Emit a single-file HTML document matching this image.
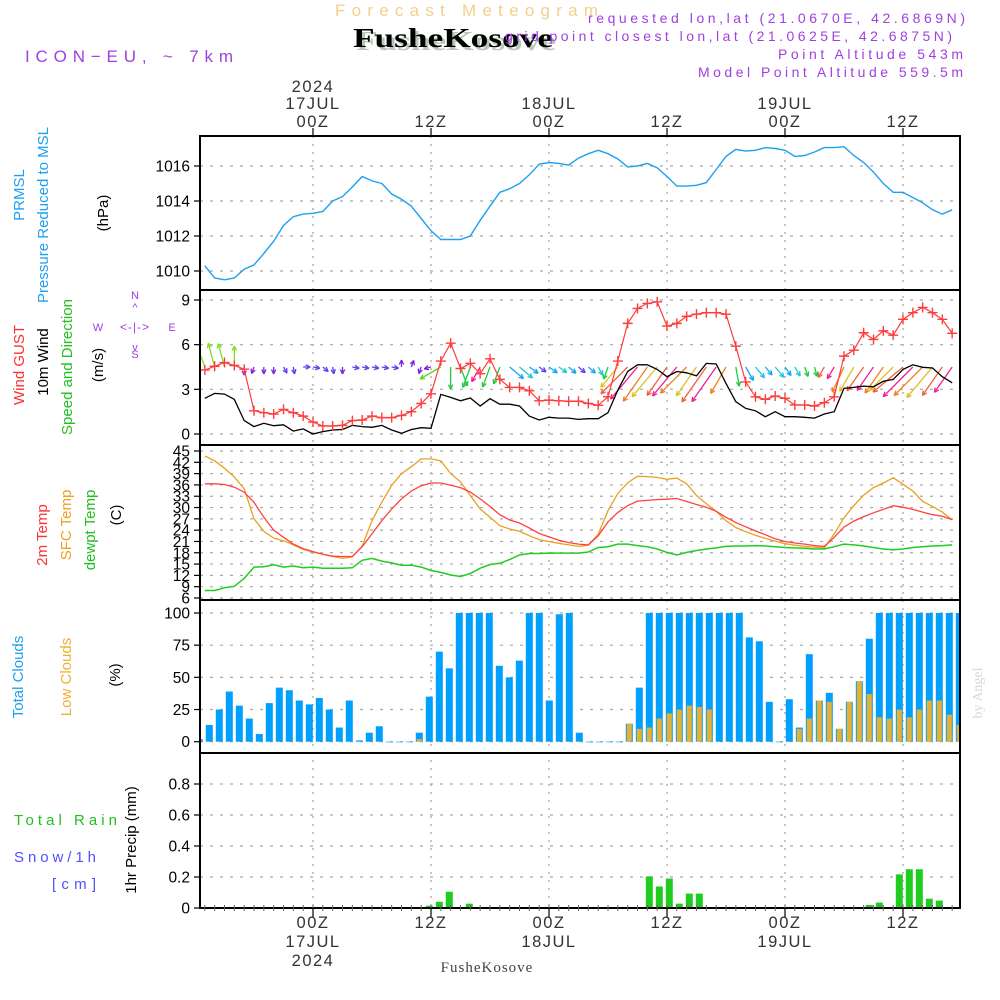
<!DOCTYPE html>
<html><head><meta charset="utf-8"><style>
html,body{margin:0;padding:0;background:#fff}
svg{display:block}
text{font-family:"Liberation Sans",sans-serif}
</style></head><body>
<svg id="chart" width="1000" height="1000" viewBox="0 0 1000 1000" xmlns="http://www.w3.org/2000/svg">
<g>
<text x="335" y="16" textLength="263" lengthAdjust="spacing" font-size="17" fill="#f3d08c">Forecast Meteogram</text>
<text x="356" y="50" textLength="200" lengthAdjust="spacingAndGlyphs" font-size="27" font-weight="bold" fill="#b8c8b8" style="font-family:'Liberation Serif',serif">FusheKosove</text>
<text x="353" y="47" textLength="200" lengthAdjust="spacingAndGlyphs" font-size="27" font-weight="bold" fill="#000" style="font-family:'Liberation Serif',serif">FusheKosove</text>
<text x="588" y="23" textLength="377" lengthAdjust="spacing" font-size="14" fill="#a040e0">requested lon,lat (21.0670E, 42.6869N)</text>
<text x="505" y="41" textLength="447" lengthAdjust="spacing" font-size="14" fill="#a040e0">grid point closest lon,lat (21.0625E, 42.6875N)</text>
<text x="778" y="59" textLength="185" lengthAdjust="spacing" font-size="14" fill="#a040e0">Point Altitude 543m</text>
<text x="698" y="77" textLength="265" lengthAdjust="spacing" font-size="14" fill="#a040e0">Model Point Altitude 559.5m</text>
<text x="25" y="62" textLength="208" lengthAdjust="spacing" font-size="17" fill="#a040e0">ICON−EU, ~ 7km</text>
</g>
<g font-size="15">
<text transform="translate(24,195) rotate(-90)" text-anchor="middle" fill="#1ea0f0">PRMSL</text>
<text transform="translate(48,215) rotate(-90)" text-anchor="middle" fill="#1ea0f0">Pressure Reduced to MSL</text>
<text transform="translate(108,213) rotate(-90)" text-anchor="middle" fill="#000">(hPa)</text>
<text transform="translate(24,365) rotate(-90)" text-anchor="middle" fill="#ff3030">Wind GUST</text>
<text transform="translate(48,362) rotate(-90)" text-anchor="middle" fill="#000">10m Wind</text>
<text transform="translate(72,367) rotate(-90)" text-anchor="middle" fill="#20c020">Speed and Direction</text>
<text transform="translate(103,365) rotate(-90)" text-anchor="middle" fill="#000">(m/s)</text>
<g fill="#a040e0" font-size="11">
<text x="135" y="299" text-anchor="middle">N</text><text x="135" y="358" text-anchor="middle">S</text>
<text x="98" y="331" text-anchor="middle">W</text><text x="172" y="331" text-anchor="middle">E</text>
<text x="135" y="331" text-anchor="middle" font-size="12" letter-spacing="1">&lt;-|-&gt;</text>
<text x="135" y="311" text-anchor="middle">^</text><text x="135" y="351" text-anchor="middle">v</text>
</g>
<text transform="translate(47,535) rotate(-90)" text-anchor="middle" fill="#ff3030">2m Temp</text>
<text transform="translate(71,525) rotate(-90)" text-anchor="middle" fill="#f0a020">SFC Temp</text>
<text transform="translate(95,530) rotate(-90)" text-anchor="middle" fill="#20c020">dewpt Temp</text>
<text transform="translate(121,515) rotate(-90)" text-anchor="middle" fill="#000">(C)</text>
<text transform="translate(23,677) rotate(-90)" text-anchor="middle" fill="#1ea0f0">Total Clouds</text>
<text transform="translate(71,677) rotate(-90)" text-anchor="middle" fill="#f0b030">Low Clouds</text>
<text transform="translate(120,675) rotate(-90)" text-anchor="middle" fill="#000">(%)</text>
<text x="14" y="825" textLength="103" lengthAdjust="spacing" font-size="15" fill="#20c020">Total   Rain</text>
<text x="14" y="862" textLength="82" lengthAdjust="spacing" font-size="15" fill="#5050ff">Snow/1h</text>
<text x="52" y="889" textLength="44" lengthAdjust="spacing" font-size="15" fill="#5050ff">[cm]</text>
<text transform="translate(136,840) rotate(-90)" text-anchor="middle" fill="#000">1hr Precip (mm)</text>
</g>
<text transform="translate(982,693) rotate(-90)" text-anchor="middle" font-size="14" fill="#d8d8d8" style="font-family:'Liberation Serif',serif">by Angel</text>
<text x="487" y="972" text-anchor="middle" font-size="15" letter-spacing="1" fill="#444" style="font-family:'Liberation Serif',serif">FusheKosove</text>
<defs><clipPath id="plotclip"><rect x="200" y="136" width="760" height="772"/></clipPath></defs>
<g id="grid"></g>
<g id="marks" clip-path="url(#plotclip)"></g>
<g id="axes"></g>
</svg>
<script>
// ---- data (hourly, hours from 17JUL 00Z: -11 .. 65) ----
const hourStart = -11;
const pressure = [1010.3,1009.6,1009.5,1009.6,1010.1,1010.35,1011.0,1011.7,1012.6,1013.1,1013.25,1013.3,1013.4,1014.0,1014.25,1014.8,1015.4,1015.15,1015.0,1014.4,1014.1,1013.7,1013.0,1012.3,1011.8,1011.8,1011.8,1012.0,1012.9,1013.7,1014.5,1014.7,1015.0,1015.5,1016.1,1016.2,1016.15,1016.05,1016.45,1016.7,
1016.9,1016.7,1016.4,1015.95,1016.0,1016.15,1015.9,1015.4,1014.85,1014.85,1014.9,1015.05,1015.8,1016.55,1016.95,1016.85,1016.9,1017.05,1017.0,1016.9,1016.55,1016.6,1016.8,1017.05,1017.05,1017.1,1016.6,1016.2,1015.65,1015.0,1014.5,1014.5,1014.2,1013.9,1013.5,1013.25,1013.5];
const windGust = [4.3,4.55,4.8,4.6,4.35,1.56,1.43,1.34,1.65,1.43,1.2,0.8,0.54,0.54,0.58,0.9,0.94,1.2,1.1,1.1,1.25,1.5,2.05,2.7,4.9,6.1,4.4,4.75,4.05,5.05,3.67,3.13,3.13,2.9,2.23,2.28,2.23,2.2,2.2,2.05,
1.93,2.5,4.9,7.43,8.43,8.77,8.88,7.25,7.43,7.9,8.05,8.15,8.15,8.05,5.9,3.5,2.5,2.33,2.55,2.4,1.95,1.95,1.88,2.1,2.5,5.23,5.63,6.8,6.35,6.93,6.64,7.7,8.15,8.5,8.15,7.7,6.76];
const wind10m = [2.4,2.73,2.68,2.33,0.9,0.5,0.72,0.56,0.62,0.2,0.34,0,0.16,0.27,0.3,0.58,0.5,0.45,0.58,0.27,0.05,0.3,0.42,0.38,2.66,2.46,2.23,2.42,1.88,2.37,2.0,2.0,1.88,1.2,0.94,1.12,1.07,1.07,0.98,1.03,
1.03,1.43,2.95,4.2,4.65,4.65,4.34,3.85,4.2,4.11,3.9,4.74,4.7,3.4,2.17,1.72,1.56,1.16,1.5,1.16,1.16,1.12,1.07,1.34,1.5,3.07,3.13,3.22,3.17,3.54,3.67,4.34,4.65,4.48,4.43,3.85,3.44];
const windDir = [340,345,345,0,180,200,180,180,150,170,90,
100,130,170,180,100,100,100,100,100,0,20,200,255,240,180,160,200,210,200,200,
130,130,125,125,125,125,130,130,130,150,200,220,225,220,215,220,215,220,225,215,
215,215,210,170,150,140,140,140,145,150,160,165,210,210,205,210,215,215,215,225,230,225,225,220,215,215];
const temp2m = [36.3,36.3,36.1,35.4,34.1,31.4,27.4,24.0,22.1,20.3,19.1,18.3,17.6,17.1,17.0,17.0,19.6,23.0,26.5,29.6,32.3,34.4,35.8,36.5,36.5,35.9,35.3,34.1,32.3,30.3,28.1,26.7,25.9,24.6,23.1,22.2,21.3,20.7,20.3,
20.1,22.5,26.2,28.7,30.5,31.7,31.9,32.1,32.2,32.4,31.6,30.8,30.1,29.0,27.4,26.0,24.9,23.8,22.8,21.7,21.0,20.6,20.3,19.9,19.7,22.1,24.8,26.4,27.6,28.6,29.5,30.5,30.1,29.5,28.8,28.1,27.7,26.8];
const tempSfc = [43.7,42.4,40.4,38.1,35.0,27.0,23.7,21.9,21.2,20.1,18.9,18.2,17.6,17.0,16.5,16.9,19.8,26.5,31.4,35.9,39.0,40.8,42.9,42.9,42.4,39.0,36.8,33.2,29.6,27.4,25.2,24.3,23.7,22.5,21.5,21.0,20.5,20.1,19.7,
20.0,22.9,29.2,33.7,36.6,38.3,38.2,38.0,37.5,37.8,36.3,33.2,31.0,29.0,26.5,24.7,23.6,22.6,21.8,21.1,20.4,20.0,19.7,19.5,19.3,23.0,27.3,30.5,33.3,35.3,36.5,37.9,36.2,34.4,31.6,30.3,28.8,26.7];
const dewpoint = [8.0,8.0,8.7,9.1,11.2,14.2,14.3,14.8,14.2,14.5,14.0,14.2,13.9,13.9,13.9,14.0,16.0,16.5,15.8,15.3,14.7,14.7,14.2,13.3,12.8,12.1,11.7,12.5,13.9,14.9,15.2,16.2,17.4,17.8,17.8,17.9,17.9,17.9,17.9,
18.2,19.4,19.6,20.3,20.3,19.9,19.6,19.0,18.1,17.4,18.1,18.6,19.0,19.3,19.7,19.8,19.8,19.9,19.8,19.6,19.4,19.3,19.2,19.0,19.0,19.6,20.3,20.1,19.8,19.4,19.0,18.8,19.0,19.4,19.6,19.8,19.9,20.1];
const totalClouds = [2,13,25,39,28,18,6,30,42,40,32,29,34,25,11,32,1,7,12,0,0,0,7,35,70,57,100,100,100,100,59,50,63,100,100,32,99,100,7,0,
0,0,0,14,42,100,100,100,100,100,100,100,100,100,100,81,78,31,0,33,11,68,32,38,10,31,47,80,100,100,100,100,100,100,100,100,100];
const lowClouds = [0,0,0,0,0,0,0,0,0,0,0,0,0,0,0,0,0,0,0,0,0,0,2,0,0,0,0,0,0,0,0,0,0,0,0,0,0,0,0,0,
0,0,0,14,10,11,18,22,25,28,27,25,0,0,0,0,0,0,0,0,10,18,32,31,10,31,47,37,19,18,25,19,25,32,32,21,13];
const precip = [0,0,0,0,0,0,0,0,0,0,0,0,0,0,0,0,0,0,0,0,0,0,0,0.015,0.04,0.105,0,0.028,0,0,0,0,0,0,0,0,0,0,0,0,
0,0,0,0,0,0.204,0.139,0.19,0.028,0.093,0.093,0,0,0,0,0,0,0,0,0,0,0,0,0,0,0,0,0.02,0.035,0,0.217,0.25,0.25,0.06,0.048,0,0];
const pressTicks = [1010,1012,1014,1016];
const windTicks = [0,3,6,9];
const tempTicks = [6,9,12,15,18,21,24,27,30,33,36,39,42,45];
const cloudTicks = [0,25,50,75,100];
const precipTicks = [0,0.2,0.4,0.6,0.8];
const timeTicks = [0,12,24,36,48,60];
const timeLabels = ["00Z","12Z","00Z","12Z","00Z","12Z"];
const dateLabels = ["17JUL","","18JUL","","19JUL",""];

// ---- scales ----
const X0=200, X1=960;
const xH = h => 313 + h*(118/12);
const barX = i => 199.3 + i*10;
const lin = (d0,d1,r0,r1) => v => r0 + (v-d0)*(r1-r0)/(d1-d0);
const yP = lin(1010,1016,271,166);
const yW = lin(0,9,434,300);
const yT = lin(6,45,598,451);
const yC = lin(0,100,741.7,613);
const yR = lin(0,0.8,908,784);
const panels = [[136,290],[290,445],[445,600],[600,753],[753,908]];

const NS="http://www.w3.org/2000/svg";
const grid=document.getElementById('grid'), marks=document.getElementById('marks'), axes=document.getElementById('axes');
function mk(tag,attrs,parent){const e=document.createElementNS(NS,tag);for(const k in attrs)e.setAttribute(k,attrs[k]);parent.appendChild(e);return e;}

timeTicks.forEach(h=>{
  const l=mk('line',{x1:xH(h),x2:xH(h),y1:136,y2:908,stroke:'#a0a0a0','stroke-width':1.2,'stroke-dasharray':'2 6'},grid);
  
  
});
function hgrid(vals,ys){vals.forEach(v=>{const y=ys(v);
  const l=mk('line',{x1:X0,x2:X1,y1:y,y2:y,stroke:'#a8a8a8','stroke-width':1.2,'stroke-dasharray':'3 7'},grid);
  
  
});}
hgrid(pressTicks,yP);hgrid(windTicks,yW);hgrid(tempTicks,yT);hgrid(cloudTicks,yC);hgrid([0.2,0.4,0.6,0.8],yR);

function line(vals,ys,color,name,w){
  const pts=vals.map((v,i)=>xH(hourStart+i).toFixed(1)+','+ys(v).toFixed(1)).join(' ');
  const p=mk('polyline',{points:pts,fill:'none',stroke:color,'stroke-width':w||1.4},marks);
  
  
}
line(pressure,yP,'#1ea0f0','pressure-line');

function arrowColor(i){const d=windDir[i],s=wind10m[i];
  if(s<1) return (d>=90&&d<=175)?'#6040f0':'#8020e0';
  if(d>=300||d<=30) return '#80dd20';
  if(d>=100&&d<160) return i%2?'#10a8f0':'#20c8d0';
  if(d>=160&&d<205) return '#20cc40';
  if(d>=205&&d<240) return ['#f02090','#f08020','#e0c020','#f06040'][i%4];
  return '#60d020';}
windDir.forEach((d,i)=>{
  const x=xH(hourStart+i), y=367, len=Math.max(7,9*wind10m[i]);
  const a=d*Math.PI/180, tx=x+len*Math.sin(a), ty=y-len*Math.cos(a);
  const c=arrowColor(i);
  const g=mk('g',{stroke:c,'stroke-width':1.3,fill:'none'},marks);
  
  
  mk('line',{x1:x,y1:y,x2:tx,y2:ty},g);
  const hl=5;[a+Math.PI-0.45,a+Math.PI+0.45].forEach(b=>mk('line',{x1:tx,y1:ty,x2:tx+hl*Math.sin(b),y2:ty-hl*Math.cos(b)},g));
});
line(wind10m,yW,'#000','wind-10m-line',1.3);
line(windGust,yW,'#ff3c3c','wind-gust-line',1.2);
windGust.forEach((v,i)=>{const x=xH(hourStart+i),y=yW(v);
  const m=mk('path',{d:`M${x-5},${y}H${x+5}M${x},${y-5}V${y+5}`,stroke:'#ff3c3c','stroke-width':1.4},marks);
  
  
});

line(tempSfc,yT,'#eaa020','sfc-temp-line',1.3);
line(temp2m,yT,'#ff4040','temp-2m-line',1.3);
line(dewpoint,yT,'#20cc20','dewpoint-line',1.5);

totalClouds.forEach((v,i)=>{const x=barX(i),y=yC(v);
  const r=mk('rect',{x:x-3.5,y:y,width:7,height:Math.max(0.6,yC(0)-y),fill:'#00a0ff'},marks);
  
  
});
lowClouds.forEach((v,i)=>{if(v<=0)return;const x=barX(i),y=yC(v);
  const r=mk('rect',{x:x-2.5,y:y,width:5,height:yC(0)-y,fill:'#e8b030'},marks);
  
  
});
precip.forEach((v,i)=>{if(v<=0)return;const x=barX(i),y=yR(v);
  const r=mk('rect',{x:x-3.5,y:y,width:7,height:yR(0)-y,fill:'#20cc20'},marks);
  
  
});

panels.forEach(([a,b])=>{
  const r=mk('rect',{x:X0,y:a,width:X1-X0,height:b-a,fill:'none',stroke:'#000','stroke-width':2},axes);
  
  
});
function yticks(vals,ys,fmt,name){vals.forEach(v=>{const y=ys(v);
  mk('line',{x1:194,x2:200,y1:y,y2:y,stroke:'#000','stroke-width':1.2},axes);
  const t=mk('text',{x:190,y:y+5.5,'text-anchor':'end','font-size':15.5,fill:'#000'},axes);
  t.textContent=fmt(v);
  
  
});}
yticks(pressTicks,yP,v=>v,'pressure-tick-label');
yticks(windTicks,yW,v=>v,'wind-tick-label');
yticks(tempTicks,yT,v=>v,'temp-tick-label');
yticks(cloudTicks,yC,v=>v,'cloud-tick-label');
yticks(precipTicks,yR,v=>v===0?'0':v.toFixed(1),'precip-tick-label');
for(let h=hourStart;h<=65;h++){mk('line',{x1:xH(h),x2:xH(h),y1:905,y2:911,stroke:'#666','stroke-width':1},axes);}
timeTicks.forEach((h,i)=>{const x=xH(h);
  mk('line',{x1:x,x2:x,y1:128,y2:136,stroke:'#000','stroke-width':1.2},axes);
  mk('line',{x1:x,x2:x,y1:908,y2:918,stroke:'#000','stroke-width':1.2},axes);
  const t1=mk('text',{x:x,y:127,'text-anchor':'middle','font-size':16.5,fill:'#333','letter-spacing':1.5},axes);
  t1.textContent=timeLabels[i];
  
  
  const t2=mk('text',{x:x,y:928,'text-anchor':'middle','font-size':16.5,fill:'#333','letter-spacing':1.5},axes);
  t2.textContent=timeLabels[i];
  
  
  if(dateLabels[i]){
    const d1=mk('text',{x:x,y:109,'text-anchor':'middle','font-size':16.5,fill:'#333','letter-spacing':1.5},axes);
    d1.textContent=dateLabels[i];
    
    
    const d2=mk('text',{x:x,y:947,'text-anchor':'middle','font-size':16.5,fill:'#333','letter-spacing':1.5},axes);
    d2.textContent=dateLabels[i];
    
    
  }
  if(i===0){
    const y1=mk('text',{x:x,y:92,'text-anchor':'middle','font-size':16.5,fill:'#333','letter-spacing':1.5},axes);
    y1.textContent='2024';
    
    
    const y2=mk('text',{x:x,y:966,'text-anchor':'middle','font-size':16.5,fill:'#333','letter-spacing':1.5},axes);
    y2.textContent='2024';
    
    
  }
});
</script>
</body></html>
